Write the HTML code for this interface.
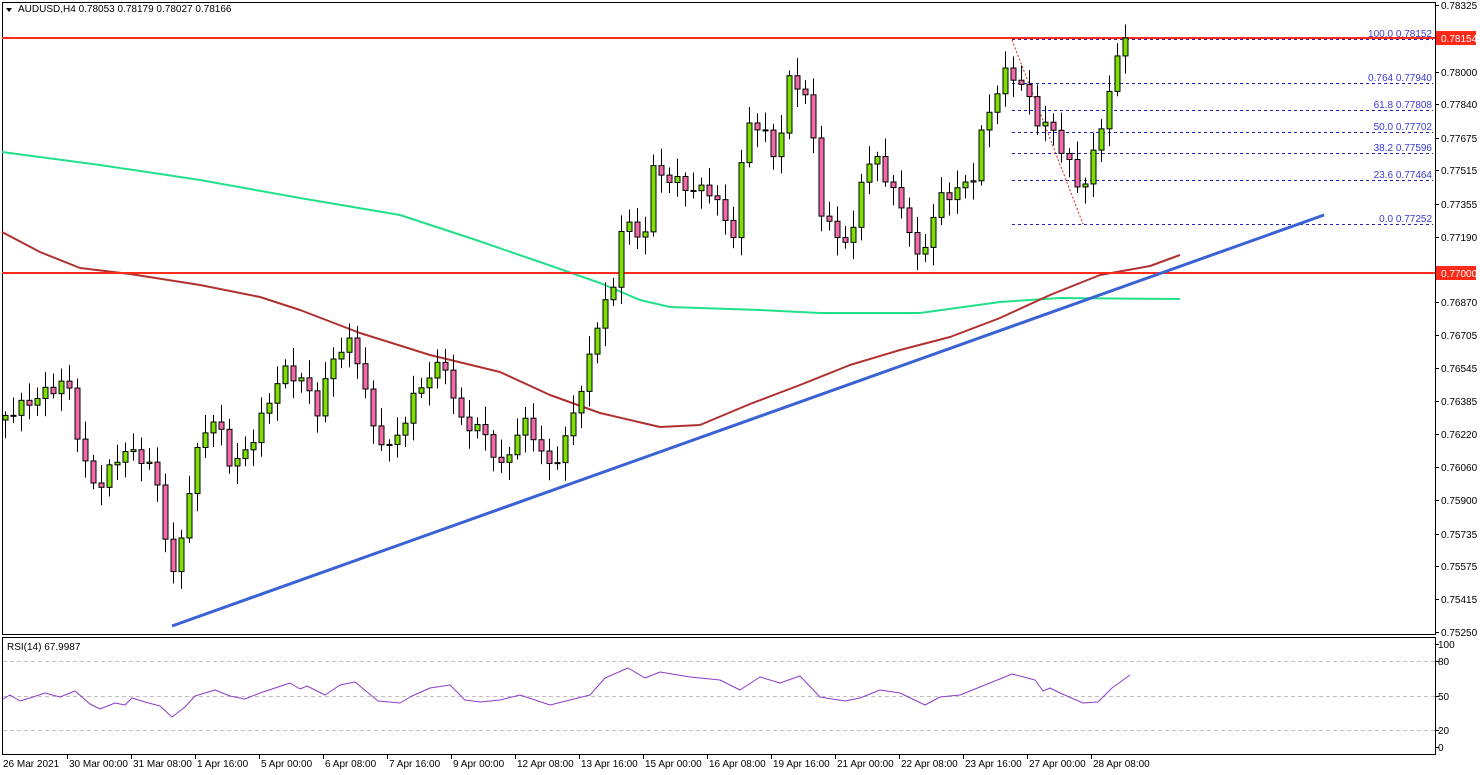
<!DOCTYPE html>
<html><head><meta charset="utf-8"><style>
html,body{margin:0;padding:0;background:#fff;width:1480px;height:775px;overflow:hidden}
svg{display:block;font-family:"Liberation Sans",sans-serif;font-size:10px}
</style></head><body>
<svg id="s" width="1480" height="775" viewBox="0 0 1480 775" xmlns="http://www.w3.org/2000/svg">
<rect width="1480" height="775" fill="#fff"/>
<g id="g"></g>
</svg>
<script>
const NS="http://www.w3.org/2000/svg",g=document.getElementById('g');
function el(t,a,txt){const e=document.createElementNS(NS,t);for(const k in a)e.setAttribute(k,a[k]);if(txt!=null)e.textContent=txt;g.appendChild(e);return e;}
function interp(pts,x){if(x<=pts[0][0])return pts[0][1];for(let i=1;i<pts.length;i++){if(x<=pts[i][0]){const a=pts[i-1],b=pts[i];return a[1]+(b[1]-a[1])*(x-a[0])/(b[0]-a[0]);}}return pts[pts.length-1][1];}
// price path (pixel y)
const P=[[5,420],[40,400],[75,380],[90,460],[105,490],[130,450],[155,460],[170,500],[178,590],[185,560],[195,500],[210,430],[225,420],[240,470],[260,440],[290,370],[310,380],[325,410],[340,360],[355,340],[370,370],[380,430],[400,450],[420,400],[440,370],[455,365],[465,420],[490,430],[510,470],[530,420],[545,440],[555,470],[570,450],[585,400],[600,350],[610,300],[625,290],[630,210],[640,230],[650,250],[660,170],[680,180],[700,190],[720,190],[740,240],[755,120],[770,130],[785,160],[797,80],[810,85],[820,130],[830,220],[850,240],[860,240],[870,170],[885,160],[900,190],[915,220],[925,260],[935,240],[945,200],[965,190],[980,180],[990,130],[1005,90],[1015,70],[1030,85],[1045,120],[1060,130],[1075,160],[1085,185],[1095,180],[1105,140],[1115,100],[1125,60],[1130,38]];
// grid axes
el('rect',{x:2.5,y:2.5,width:1433,height:632,fill:'none',stroke:'#000'});
el('rect',{x:2.5,y:637.5,width:1433,height:117,fill:'none',stroke:'#000'});
// price axis labels
const labs=[["0.78325",5],["0.78000",72],["0.77840",104],["0.77675",138],["0.77515",170],["0.77355",204],["0.77190",237],["0.76870",302],["0.76705",335],["0.76545",368],["0.76385",401],["0.76220",434],["0.76060",467],["0.75900",500],["0.75735",534],["0.75575",566],["0.75415",599],["0.75250",632]];
labs.forEach(l=>{el('line',{x1:1435,x2:1439,y1:l[1]+.5,y2:l[1]+.5,stroke:'#000'});el('text',{x:1441,y:l[1]+4,fill:'#000'},l[0]);});
// MAs
function poly(pts,c,w){el('polyline',{points:pts.map(p=>p.join(',')).join(' '),fill:'none',stroke:c,'stroke-width':w,'stroke-linejoin':'round'});}
poly([[2,152],[100,165],[200,180],[300,198],[400,215],[470,238],[540,262],[600,283],[640,300],[670,307],[760,310],[820,313],[920,313],[1000,302],[1060,298],[1180,299]],'#22e089',2);
poly([[2,232],[40,252],[80,268],[130,274],[200,285],[260,297],[300,310],[360,333],[430,355],[500,372],[550,395],[600,413],[660,427],[700,425],[750,404],[800,385],[850,365],[900,350],[950,337],[1000,318],[1050,295],[1100,275],[1150,266],[1180,255]],'#b03030',2);
// red horizontals
el('line',{x1:2,x2:1435,y1:38,y2:38,stroke:'#ff2a1a','stroke-width':2});
el('line',{x1:2,x2:1435,y1:273,y2:273,stroke:'#ff2a1a','stroke-width':2});
// fib
const fib=[["100.0 0.78152",39],["0.764 0.77940",83],["61.8 0.77808",110],["50.0 0.77702",132],["38.2 0.77596",153],["23.6 0.77464",180],["0.0 0.77252",224]];
fib.forEach(f=>{el('line',{x1:1012,x2:1433,y1:f[1]+.5,y2:f[1]+.5,stroke:'#2020c0','stroke-dasharray':'3,3'});el('text',{x:1432,y:f[1]-2,fill:'#3a3ad8','text-anchor':'end'},f[0]);});
el('line',{x1:1012,y1:40,x2:1083,y2:224,stroke:'#e02020','stroke-dasharray':'2,2'});
// candles
let prev=interp(P,5);
for(let i=0;i<141;i++){const x=5+i*8;let c=interp(P,x+8)+Math.sin(i*2.3)*6;if(i==140)c=38;const o=prev;prev=c;
 const top=Math.min(o,c),bot=Math.max(o,c);const hi=top-4-Math.abs(Math.sin(i*1.7))*14,lo=bot+4+Math.abs(Math.cos(i*1.3))*14;
 el('line',{x1:x+.5,x2:x+.5,y1:hi,y2:lo,stroke:'#000'});
 const bull=c<o;el('rect',{x:x-2,y:top,width:5,height:Math.max(1,bot-top),fill:bull?'#7ce000':'#f06aa8',stroke:'#000','stroke-width':1});}
// trend line
el('line',{x1:172,y1:626,x2:1324,y2:215,stroke:'#3a62d4','stroke-width':3});
// axis red labels
[["0.78154",38],["0.77000",273]].forEach(l=>{el('rect',{x:1436,y:l[1]-7,width:40,height:14,fill:'#ff2a1a'});el('text',{x:1441,y:l[1]+4,fill:'#fff'},l[0]);});
// header
el('polygon',{points:'6,8 12,8 9,12',fill:'#000'});
el('text',{x:18,y:12,fill:'#000'},'AUDUSD,H4  0.78053 0.78179 0.78027 0.78166');
// RSI
el('text',{x:7,y:650,fill:'#000'},'RSI(14) 67.9987');
[661,696,730].forEach(y=>el('line',{x1:3,x2:1435,y1:y+.5,y2:y+.5,stroke:'#c0c0c0','stroke-dasharray':'4,3'}));
[["100",644],["80",661],["50",696],["20",730],["0",747]].forEach(l=>{el('line',{x1:1435,x2:1439,y1:l[1]+.5,y2:l[1]+.5,stroke:'#000'});el('text',{x:1438,y:l[1]+4,fill:'#000'},l[0]);});
poly([[3,699],[10,695],[20,701],[30,698],[45,693],[60,697],[75,691],[90,704],[100,709],[115,703],[125,705],[132,698],[145,702],[160,706],[172,717],[185,707],[195,696],[215,690],[230,696],[245,699],[260,693],[290,683],[300,689],[307,686],[325,695],[340,685],[355,682],[378,701],[400,703],[412,696],[430,688],[450,685],[465,700],[480,702],[500,700],[520,695],[550,705],[570,700],[590,695],[605,678],[628,668],[645,678],[660,672],[690,677],[720,680],[740,690],[760,677],[780,683],[800,676],[820,697],[845,701],[860,698],[880,690],[900,693],[925,705],[940,697],[960,695],[985,685],[1012,674],[1035,680],[1043,691],[1050,688],[1060,693],[1083,703],[1098,702],[1112,688],[1130,675]],'#8a3ec8',1);
// time axis
const dates=["26 Mar 2021","30 Mar 00:00","31 Mar 08:00","1 Apr 16:00","5 Apr 00:00","6 Apr 08:00","7 Apr 16:00","9 Apr 00:00","12 Apr 08:00","13 Apr 16:00","15 Apr 00:00","16 Apr 08:00","19 Apr 16:00","21 Apr 00:00","22 Apr 08:00","23 Apr 16:00","27 Apr 00:00","28 Apr 08:00"];
dates.forEach((d,i)=>{const x=3+i*64;if(i>0)el('line',{x1:x+.5,x2:x+.5,y1:755,y2:759,stroke:'#000'});el('text',{x:i==0?3:x+2,y:767,fill:'#000'},d);});
</script>
</body></html>
